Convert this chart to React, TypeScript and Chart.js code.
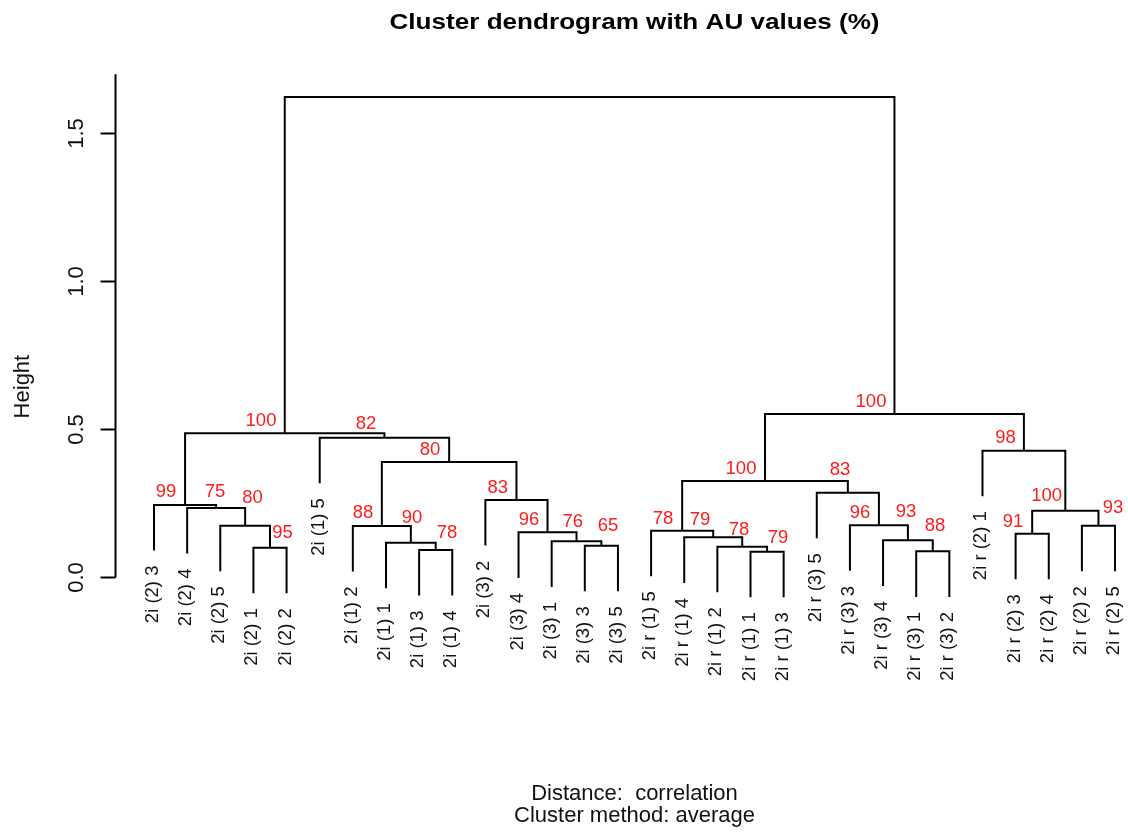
import React, { useEffect, useRef } from "react";
import { Chart, registerables } from "chart.js";

Chart.register(...registerables);

// ---- Data ----
const leafLabels = [
  "2i (2) 3", "2i (2) 4", "2i (2) 5", "2i (2) 1", "2i (2) 2",
  "2i (1) 5", "2i (1) 2", "2i (1) 1", "2i (1) 3", "2i (1) 4",
  "2i (3) 2", "2i (3) 4", "2i (3) 1", "2i (3) 3", "2i (3) 5",
  "2i r (1) 5", "2i r (1) 4", "2i r (1) 2", "2i r (1) 1", "2i r (1) 3",
  "2i r (3) 5", "2i r (3) 3", "2i r (3) 4", "2i r (3) 1", "2i r (3) 2",
  "2i r (2) 1", "2i r (2) 3", "2i r (2) 4", "2i r (2) 2", "2i r (2) 5",
];

// R-style merge matrix: negative = leaf -(index+1), positive = earlier merge (1-based)
const mergeLeft = [
  -4, -3, -2, -1, -9, -8, -7, -14, -13, -12, -11, 7, -6, 4,
  -19, -18, -17, -16, -24, -23, -22, -21, 18, -27, -29, 24, -26, 23, 14,
];
const mergeRight = [
  -5, 1, 2, 3, -10, 5, 6, -15, 8, 9, 10, 11, 12, 13,
  -20, 15, 16, 17, -25, 19, 20, 21, 22, -28, -30, 25, 26, 27, 28,
];
const mergeHeights = [
  0.1007, 0.175, 0.2348, 0.245, 0.0929, 0.1176, 0.174, 0.1074, 0.1223, 0.1527,
  0.2618, 0.3902, 0.4723, 0.4872, 0.0872, 0.104, 0.1358, 0.1581, 0.0885, 0.1257,
  0.1764, 0.2865, 0.326, 0.148, 0.175, 0.2257, 0.4284, 0.5524, 1.6233,
];
const auValues = [
  "95", "80", "75", "99", "78", "90", "88", "65", "76", "96",
  "83", "80", "82", "100", "79", "78", "79", "78", "88", "93",
  "96", "83", "100", "91", "93", "100", "98", "100", "",
];
// AU label anchors (centre x in leaf units, baseline in height units)
const auLabelX = [
  3.877, 2.972, 1.841, 0.362, 8.841, 7.785, 6.307, 13.7, 12.634, 11.316,
  10.371, 8.328, 6.397, 3.229, 18.83, 17.652, 16.476, 15.359, 23.567, 22.692,
  21.304, 20.7, 17.713, 25.92, 28.938, 26.937, 25.694, 21.636, 0,
];
const auLabelY = [
  0.1324, 0.2527, 0.272, 0.272, 0.1334, 0.1831, 0.2, 0.1571, 0.1716, 0.1774,
  0.2845, 0.4139, 0.5007, 0.5118, 0.1176, 0.1436, 0.1774, 0.1807, 0.1581, 0.2054,
  0.202, 0.3463, 0.3497, 0.1716, 0.2189, 0.2595, 0.4554, 0.575, 0,
];
const yTicks = [0, 0.5, 1.0, 1.5];
const yAxisTop = 1.7;
const hang = 0.154;
const titleText = "Cluster dendrogram with AU values (%)";
const subLines = ["Distance:  correlation", "Cluster method: average"];
const yTitle = "Height";

const FONT = '"Liberation Sans", Arial, Helvetica, sans-serif';

function nodeX(id: number): number {
  if (id < 0) return -id - 1;
  return (nodeX(mergeLeft[id - 1]) + nodeX(mergeRight[id - 1])) / 2;
}
function nodeH(id: number, parentH: number): number {
  return id < 0 ? parentH - hang : mergeHeights[id - 1];
}

export default function App() {
  const ref = useRef<HTMLCanvasElement | null>(null);

  useEffect(() => {
    if (!ref.current) return;

    const datasets = mergeLeft.map((l, i) => {
      const r = mergeRight[i];
      const h = mergeHeights[i];
      const xl = nodeX(l);
      const xr = nodeX(r);
      return {
        data: [
          { x: xl, y: nodeH(l, h) },
          { x: xl, y: h },
          { x: xr, y: h },
          { x: xr, y: nodeH(r, h) },
        ],
        showLine: true,
        borderColor: "#000",
        borderWidth: 2,
        pointRadius: 0,
        pointHoverRadius: 0,
        tension: 0,
        fill: false,
      };
    });

    // parent height of each leaf
    const leafParent: number[] = new Array(leafLabels.length).fill(0);
    mergeLeft.forEach((l, i) => {
      if (l < 0) leafParent[-l - 1] = mergeHeights[i];
      const r = mergeRight[i];
      if (r < 0) leafParent[-r - 1] = mergeHeights[i];
    });

    const decor = {
      id: "dendroDecor",
      afterDraw(chart: any) {
        const ctx = chart.ctx as CanvasRenderingContext2D;
        const xs = chart.scales.x;
        const ys = chart.scales.y;
        const ax = chart.chartArea.left;
        const cx = xs.getPixelForValue((leafLabels.length - 1) / 2);
        ctx.save();

        // y axis
        ctx.strokeStyle = "#000";
        ctx.lineWidth = 2;
        ctx.beginPath();
        ctx.moveTo(ax, ys.getPixelForValue(0));
        ctx.lineTo(ax, ys.getPixelForValue(yAxisTop));
        ctx.stroke();
        ctx.fillStyle = "#111";
        ctx.font = `22px ${FONT}`;
        ctx.textAlign = "center";
        ctx.textBaseline = "alphabetic";
        yTicks.forEach((t) => {
          const py = ys.getPixelForValue(t);
          ctx.beginPath();
          ctx.moveTo(ax - 15, py);
          ctx.lineTo(ax, py);
          ctx.stroke();
          ctx.save();
          ctx.translate(ax - 32.5, py);
          ctx.rotate(-Math.PI / 2);
          ctx.fillText(t.toFixed(1), 0, 0);
          ctx.restore();
        });

        // y title
        ctx.save();
        ctx.font = `22px ${FONT}`;
        ctx.translate(ax - 87, ys.getPixelForValue(0.645));
        ctx.rotate(-Math.PI / 2);
        ctx.fillText(yTitle, 0, 0);
        ctx.restore();

        // leaf labels
        ctx.font = `18.5px ${FONT}`;
        ctx.fillStyle = "#111";
        leafLabels.forEach((lab, i) => {
          const px = xs.getPixelForValue(i) + 4;
          const py = ys.getPixelForValue(leafParent[i] - hang) + 15;
          ctx.save();
          ctx.translate(px, py);
          ctx.rotate(-Math.PI / 2);
          ctx.textAlign = "right";
          ctx.fillText(lab, 0, 0);
          ctx.restore();
        });

        // AU values
        ctx.font = `18.5px ${FONT}`;
        ctx.fillStyle = "#FF1a1a";
        ctx.textAlign = "center";
        auValues.forEach((v, i) => {
          if (!v) return;
          ctx.fillText(v, xs.getPixelForValue(auLabelX[i]), ys.getPixelForValue(auLabelY[i]));
        });

        // title
        ctx.fillStyle = "#000";
        ctx.font = `bold 22px ${FONT}`;
        const w = ctx.measureText(titleText).width;
        ctx.save();
        ctx.translate(cx, 28.5);
        ctx.scale(490 / w, 1);
        ctx.textAlign = "center";
        ctx.fillText(titleText, 0, 0);
        ctx.restore();

        // sub title lines
        ctx.font = `22px ${FONT}`;
        ctx.fillStyle = "#111";
        ctx.textAlign = "center";
        ctx.fillText(subLines[0], cx, 800);
        ctx.fillText(subLines[1], cx, 822);

        ctx.restore();
      },
    };

    const chart = new Chart(ref.current, {
      type: "scatter",
      data: { datasets: datasets as any },
      options: {
        animation: false,
        responsive: false,
        events: [],
        layout: { padding: { left: 115.5, right: 1.7, top: 59.5, bottom: 21.7 } },
        scales: {
          x: { type: "linear", display: false, min: -1.162, max: 29.34 },
          y: { type: "linear", display: false, min: -0.8, max: 1.75 },
        },
        plugins: {
          legend: { display: false },
          tooltip: { enabled: false },
          title: { display: false },
        },
      },
      plugins: [decor],
    });
    return () => chart.destroy();
  }, []);

  return (
    <div style={{ position: "fixed", left: 0, top: 0, width: 1128, height: 836, background: "#fff" }}>
      <canvas ref={ref} width={1128} height={836} style={{ display: "block" }} />
    </div>
  );
}
